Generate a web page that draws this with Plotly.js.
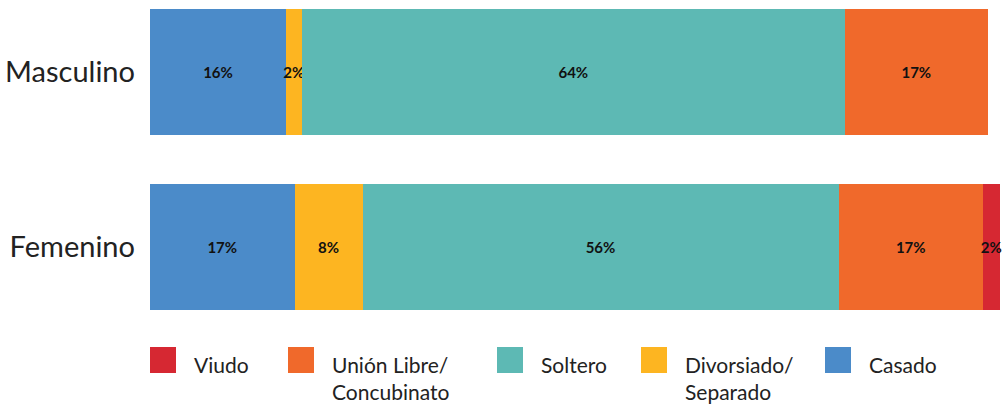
<!DOCTYPE html>
<html>
<head>
<meta charset="utf-8">
<script src="https://cdn.plot.ly/plotly-3.0.1.min.js"></script>
<style>html,body{margin:0;padding:0;background:#fff;}#chart{width:1008px;height:405px;}</style>
</head>
<body>
<div id="chart"></div>
<script>
// Data
var categories = ['Masculino', 'Femenino'];
var seriesNames = ['Casado', 'Divorsiado/<br>Separado', 'Soltero', 'Unión Libre/<br>Concubinato', 'Viudo'];
var casado = [16.0, 17.0];
var divorsiado = [1.85, 8.0];
var soltero = [63.9, 56.0];
var unionLibre = [16.8, 17.0];
var viudo = [0, 1.95];
var seriesColors = ['#4B8BC9', '#FDB521', '#5DB9B4', '#F0692B', '#D62832'];

var seriesValues = [casado, divorsiado, soltero, unionLibre, viudo];
var font = 'Lato, "Open Sans", sans-serif';

var traces = seriesValues.map(function (vals, i) {
  return {
    type: 'bar',
    orientation: 'h',
    name: seriesNames[i],
    y: categories,
    x: vals,
    marker: {color: seriesColors[i], line: {width: 0}},
    text: vals.map(function (v) { return v > 0 ? Math.round(v) + '%' : ''; }),
    textposition: 'inside',
    insidetextanchor: 'middle',
    textangle: 0,
    constraintext: 'none',
    cliponaxis: false,
    textfont: {family: font, size: 15, color: '#111', weight: 'bold'},
    hoverinfo: 'none'
  };
});

// Manual legend (order reversed: Viudo first)
var legendSquareX = [150, 288, 497, 641, 825];
var shapes = [];
var annotations = [];
var W = 850, H = 301, plotBottom = 310;
var order = [4, 3, 2, 1, 0];
order.forEach(function (si, k) {
  var px = legendSquareX[k];
  shapes.push({
    type: 'rect', xref: 'paper', yref: 'paper',
    x0: (px - 150) / W, x1: (px + 26 - 150) / W,
    y0: (plotBottom - 373) / H, y1: (plotBottom - 347) / H,
    fillcolor: seriesColors[si], line: {width: 0}
  });
  annotations.push({
    xref: 'paper', yref: 'paper',
    x: (px + 42 - 150) / W, y: (plotBottom - 350) / H,
    xanchor: 'left', yanchor: 'top', align: 'left',
    text: seriesNames[si], showarrow: false,
    font: {family: font, size: 21, color: '#222'}
  });
});

var layout = {
  width: 1008, height: 405,
  margin: {l: 150, r: 8, t: 9, b: 95},
  barmode: 'stack',
  bargap: 0.28,
  showlegend: false,
  paper_bgcolor: '#fff', plot_bgcolor: '#fff',
  xaxis: {range: [0, 100], visible: false, fixedrange: true},
  yaxis: {
    type: 'category', categoryorder: 'array', categoryarray: ['Femenino', 'Masculino'],
    range: [-0.36, 1.36], showgrid: false, zeroline: false, showline: false, ticks: '',
    ticklabelstandoff: 14, automargin: false,
    tickfont: {family: font, size: 29, color: '#222'}
  },
  uniformtext: {mode: 'show', minsize: 15},
  shapes: shapes,
  annotations: annotations
};

Plotly.newPlot('chart', traces, layout, {displayModeBar: false, staticPlot: true});
</script>
</body>
</html>
